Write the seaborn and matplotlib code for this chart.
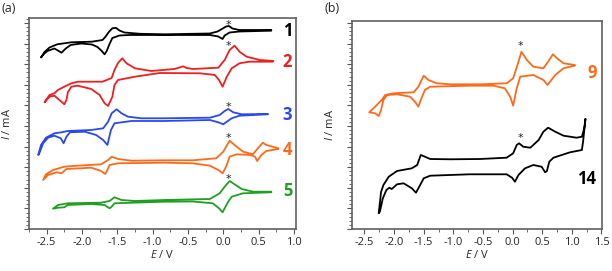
import pandas as pd
import seaborn as sns
import matplotlib.pyplot as plt
from matplotlib.ticker import MultipleLocator

sns.set_style("ticks")
plt.rcParams['font.family'] = ['Open Sans', 'DejaVu Sans']
plt.rcParams['axes.unicode_minus'] = False
plt.rcParams['mathtext.fontset'] = 'custom'
plt.rcParams['mathtext.it'] = 'Open Sans:italic'
plt.rcParams['mathtext.rm'] = 'Open Sans'

# cyclic voltammograms, E in V, I in arbitrary offset units
# panel (a)
cv1_E = [0.68, 0.23, 0.09, 0.02, -0.01, -0.07, -0.19, -0.90, -1.33, -1.47, -1.57, -1.61, -1.65, -1.68, -1.72,
         -1.78, -1.86, -2.01, -2.16, -2.23, -2.29, -2.33, -2.39, -2.49, -2.54, -2.58,
         -2.53, -2.46, -2.35, -2.15, -1.86, -1.71, -1.67, -1.62, -1.57, -1.52, -1.47, -1.40, -1.18, -0.83,
         -0.19, -0.08, -0.02, 0.04, 0.08, 0.13, 0.23, 0.68]
cv1_I = [198.3, 197.5, 196.5, 193.5, 190, 192.5, 194, 194, 194, 193.5, 191, 185, 178, 174.7, 178,
         182, 184.5, 185.5, 184, 180.5, 176.3, 178, 180.5, 178, 175, 171.5,
         177, 181.5, 184.7, 186.7, 187.3, 189, 192, 197, 200.7, 201.2, 198.5, 196.5, 195.2, 194.7,
         195.5, 197.5, 200, 202.5, 203, 200.5, 199, 199]

cv2_E = [0.70, 0.37, 0.23, 0.12, 0.05, -0.01, -0.06, -0.12, -0.33, -0.90, -1.25, -1.49, -1.54, -1.57,
         -1.63, -1.68, -1.75, -1.87, -2.06, -2.15, -2.20, -2.22, -2.25, -2.32, -2.39, -2.46, -2.53,
         -2.46, -2.39, -2.34, -2.25, -2.15, -2.06, -1.71, -1.58, -1.54, -1.49, -1.43, -1.37, -1.25, -1.02,
         -0.69, -0.62, -0.57, -0.52, -0.43, -0.07, 0.02, 0.09, 0.16, 0.23, 0.33, 0.52, 0.71]
cv2_I = [167.3, 167.3, 165.7, 160.7, 152.3, 142.3, 149, 154, 155.7, 156, 152.3, 149, 144, 132.3,
         123, 125.7, 134, 140, 143.3, 142.3, 136.7, 129, 124.7, 129, 133.3, 132.3, 126.7,
         134, 135.7, 139, 142.3, 145.7, 147.3, 147.3, 151, 159, 166, 170.7, 165.7, 160.7, 158,
         160, 161.5, 162.7, 161, 160, 161.3, 169, 179, 183.3, 177.3, 172.3, 169, 168]

cv3_E = [0.63, 0.23, 0.12, 0.05, 0.00, -0.07, -0.19, -0.83, -1.30, -1.54, -1.59, -1.64, -1.70, -1.80,
         -1.96, -2.17, -2.22, -2.26, -2.30, -2.39, -2.48, -2.55, -2.61,
         -2.62, -2.58, -2.51, -2.39, -2.29, -2.20, -1.87, -1.70, -1.63, -1.58, -1.51, -1.44, -1.35, -1.16,
         -0.83, -0.19, -0.05, 0.02, 0.07, 0.14, 0.26, 0.63]
cv3_I = [114.7, 113.3, 110.7, 107.3, 104.7, 106.7, 109, 108, 108, 105.7, 99, 84, 89, 94,
         97.3, 96.7, 92.3, 85.7, 90.7, 93.3, 91.3, 85.7, 74.7,
         74, 84, 91.3, 95.7, 96.7, 98, 99, 100.7, 107.3, 115.7, 119.7, 115.7, 112.3, 110.7,
         110.7, 111.3, 114, 118, 120, 116.7, 114.7, 115]

cv4_E = [0.78, 0.61, 0.54, 0.48, 0.45, 0.38, 0.19, 0.09, 0.04, -0.01, -0.07, -0.19, -0.43, -0.83,
         -1.49, -1.61, -1.64, -1.67, -1.73, -1.87, -2.22, -2.29, -2.36, -2.48, -2.55,
         -2.51, -2.41, -2.25, -2.06, -1.73, -1.63, -1.58, -1.49, -1.30, -0.83, -0.43, -0.10, 0.00,
         0.09, 0.16, 0.28, 0.42, 0.49, 0.56, 0.61, 0.78]
cv4_I = [80, 78, 74, 68, 72.3, 74, 74.7, 72.3, 62.3, 55.7, 59, 63.3, 65.7, 66.3,
         65.7, 64, 59, 55, 58, 61.3, 60, 55.7, 56.7, 54, 49,
         54.7, 59, 62.3, 63.3, 64.7, 69, 72.3, 70, 68.3, 68.7, 68.7, 70.7, 77.3,
         88.3, 84, 77.3, 74.7, 80.7, 86.3, 84, 80.7]

cv5_E = [0.68, 0.28, 0.12, 0.07, 0.02, -0.01, -0.06, -0.15, -0.43, -0.83, -1.54, -1.58, -1.61, -1.68,
         -1.87, -2.20, -2.25, -2.34, -2.41,
         -2.34, -2.20, -1.73, -1.61, -1.54, -1.44, -1.25, -0.83, -0.19, -0.05, 0.02, 0.09, 0.16, 0.26,
         0.42, 0.68]
cv5_I = [36.7, 35.7, 32.3, 27.3, 20.7, 16.7, 20.7, 25.7, 27.5, 27.3, 25.7, 22.3, 20.7, 24,
         25, 24, 21.7, 21.3, 20.3,
         24, 25.7, 26.3, 28, 31.7, 29, 28, 29, 30, 35.7, 42.3, 48, 44.7, 40,
         37.3, 37.3]

# panel (b)
cv9_E = [1.05, 0.86, 0.72, 0.59, 0.52, 0.35, 0.13, 0.07, 0.01, -0.04, -0.13, -0.32, -0.72, -1.39,
         -1.48, -1.55, -1.59, -1.64, -1.73, -1.95, -2.12, -2.18, -2.22, -2.26, -2.32, -2.42,
         -2.32, -2.21, -2.15, -2.01, -1.67, -1.59, -1.50, -1.42, -1.28, -1.05, -0.55, -0.10, 0.01,
         0.10, 0.15, 0.24, 0.35, 0.52, 0.60, 0.68, 0.75, 0.86, 1.05]
cv9_I = [163.3, 160.7, 154, 144, 149, 154, 152.3, 140.7, 123.3, 132.3, 140.7, 143.3, 143.3, 142.3,
         139, 129, 122.3, 126.7, 132.3, 134.7, 134, 129, 119, 113, 115.7, 116.7,
         122.3, 129, 134, 135.7, 136.7, 142.3, 153.3, 149, 145.7, 144.7, 144.7, 145.7, 150.7,
         167.3, 177.3, 169, 162.3, 160.7, 167.3, 174.7, 170.7, 165.7, 164]

cv14_E = [1.23, 1.19, 1.17, 0.97, 0.69, 0.62, 0.58, 0.55, 0.49, 0.35, 0.21, 0.10, 0.04, -0.01, -0.10,
          -0.72, -1.39, -1.50, -1.56, -1.63, -1.70, -1.84, -1.95, -2.04, -2.08, -2.13, -2.19, -2.24, -2.26,
          -2.24, -2.22, -2.18, -2.09, -1.95, -1.70, -1.61, -1.55, -1.48, -1.39, -1.05, -0.55, -0.10,
          0.01, 0.07, 0.11, 0.18, 0.30, 0.44, 0.52, 0.60, 0.72, 0.86, 1.08, 1.17, 1.21, 1.23]
cv14_I = [110, 87.3, 79, 76.7, 71.3, 67.3, 58, 56.7, 62.3, 64, 60.7, 54, 47.3, 51.3, 54.7,
          54.7, 53.3, 50.7, 44, 36.3, 40.7, 45.7, 44.7, 40, 41.3, 39, 30.7, 17.3, 15.7,
          26, 37, 44, 52.3, 58, 60.7, 64, 74, 72.3, 70, 69.7, 70, 71.3,
          75.7, 84, 85.7, 82.3, 81.3, 89, 97.3, 101.3, 97.3, 93.3, 91.3, 92.3, 100.7, 110]

labels_a = ['1', '2', '3', '4', '5']
labels_b = ['9', '14']
colors_a = ['#000000', '#f01e1e', '#2a48f0', '#ff6a1a', '#20a020']
colors_b = ['#ff6a1a', '#000000']
label_I_a = [197.5, 167.3, 114, 79, 37.5]
label_I_b = [155.7, 49.7]
star_I_a = [207.3, 186.3, 125.7, 94, 53]
star_I_b = [186.3, 94]

fig = plt.figure(figsize=(6.12, 2.71), dpi=100)
ax_a = fig.add_axes([0.0474, 0.155, 0.4363, 0.7786])
ax_b = fig.add_axes([0.5752, 0.155, 0.4085, 0.7675])


def draw(ax, E, I, color):
    df = pd.DataFrame({'E': E, 'I': I})
    sns.lineplot(data=df, x='E', y='I', sort=False, estimator=None, color=color,
                 lw=1.3, ax=ax, solid_joinstyle='round')


for E, I, c in zip([cv1_E, cv2_E, cv3_E, cv4_E, cv5_E], [cv1_I, cv2_I, cv3_I, cv4_I, cv5_I], colors_a):
    draw(ax_a, E, I, c)
for E, I, c in zip([cv9_E, cv14_E], [cv9_I, cv14_I], colors_b):
    draw(ax_b, E, I, c)


def star(ax, x, y):
    # asterisk glyph sits high in the line box, shift it down onto the point
    ax.annotate('*', (x, y), xytext=(0, -4.5), textcoords='offset points',
                fontsize=8, family='DejaVu Sans', color='#222222', ha='center', va='baseline')


for lab, c, y in zip(labels_a, colors_a, label_I_a):
    ax_a.text(0.91, y, lab, color=c, fontsize=12, fontweight='bold', ha='center', va='center')
for y in star_I_a:
    star(ax_a, 0.08, y)
for lab, c, y, x in zip(labels_b, colors_b, label_I_b, [1.34, 1.25]):
    ax_b.text(x, y, lab, color=c, fontsize=12, fontweight='bold', ha='center', va='center')
for y in star_I_b:
    star(ax_b, 0.13, y)

for ax, xl, yl in [(ax_a, (-2.75, 1.03), (0, 211)), (ax_b, (-2.71, 1.51), (0, 208))]:
    ax.set_xlim(*xl)
    ax.set_ylim(*yl)
    ax.xaxis.set_major_locator(MultipleLocator(0.5))
    ax.xaxis.set_minor_locator(MultipleLocator(0.25))
    ax.yaxis.set_major_locator(MultipleLocator(20.6))
    ax.yaxis.set_minor_locator(MultipleLocator(4.12))
    ax.tick_params(which='both', direction='out', color='#555555', labelleft=False,
                   labelsize=8, pad=2)
    ax.tick_params(which='major', length=3.5, width=0.8)
    ax.tick_params(which='minor', length=2, width=0.6)
    for s in ax.spines.values():
        s.set_color('#606060')
        s.set_linewidth(1.2)
    ax.set_xlabel('$E$ / V', fontsize=8, labelpad=1)
    ax.set_ylabel('$I$ / mA', fontsize=8, labelpad=8)

fig.text(0.003, 1 - 8 / 271, '(a)', fontsize=9, va='center')
fig.text(0.531, 1 - 9 / 271, '(b)', fontsize=9, va='center')

fig.savefig('out.png', dpi=100)
